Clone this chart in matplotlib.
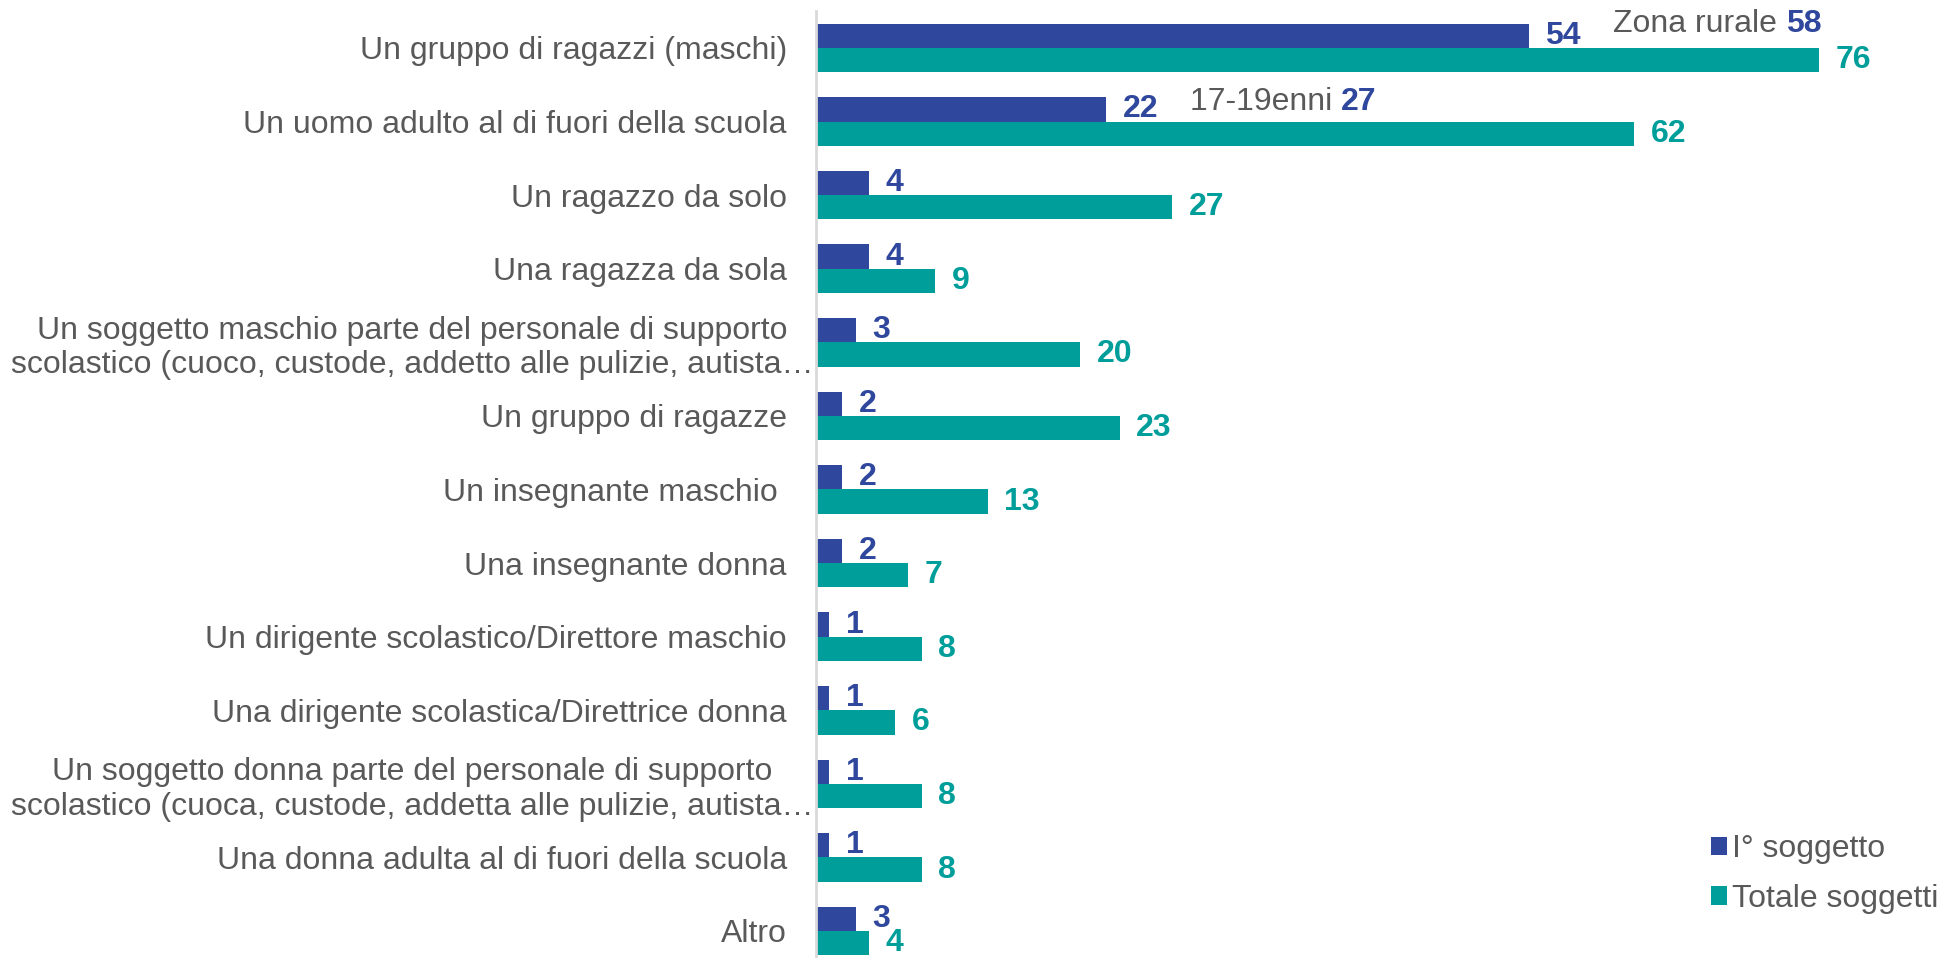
import matplotlib
matplotlib.use("Agg")
import matplotlib.pyplot as plt
from matplotlib.patches import Patch
import numpy as np

plt.rcParams['font.family'] = ['Liberation Sans', 'DejaVu Sans']

categories = [
    "Un gruppo di ragazzi (maschi)",
    "Un uomo adulto al di fuori della scuola",
    "Un ragazzo da solo",
    "Una ragazza da sola",
    "Un soggetto maschio parte del personale di supporto\nscolastico (cuoco, custode, addetto alle pulizie, autista\u2026",
    "Un gruppo di ragazze",
    "Un insegnante maschio ",
    "Una insegnante donna",
    "Un dirigente scolastico/Direttore maschio",
    "Una dirigente scolastica/Direttrice donna",
    "Un soggetto donna parte del personale di supporto\nscolastico (cuoca, custode, addetta alle pulizie, autista\u2026",
    "Una donna adulta al di fuori della scuola",
    "Altro",
]
primo = [54, 22, 4, 4, 3, 2, 2, 2, 1, 1, 1, 1, 3]
totale = [76, 62, 27, 9, 20, 23, 13, 7, 8, 6, 8, 8, 4]
series_names = ["I\u00b0 soggetto", "Totale soggetti"]

note_labels = ["Zona rurale", "17-19enni"]
note_values = [58, 27]
note_rows = [0, 1]

BLUE = "#2F479C"
TEAL = "#009E9A"
GRAY = "#595959"
FS = 23

fig = plt.figure(figsize=(19.47, 9.58), dpi=100)
ax = fig.add_axes([816/1947, -0.0102, 1056/1947, 0.9985])

y = np.arange(len(categories))
h = 0.33
ax.barh(y - h/2, primo, height=h, color=BLUE, label=series_names[0])
ax.barh(y + h/2, totale, height=h, color=TEAL, label=series_names[1])

ax.set_xlim(0, 80)
ax.set_ylim(len(categories) - 0.5, -0.5)

for yi, v in zip(y, primo):
    ax.annotate(str(v), xy=(v, yi - h/2), xytext=(12, 0), textcoords='offset points',
                ha='left', va='center', fontsize=FS, fontweight='bold', color=BLUE)
for yi, v in zip(y, totale):
    ax.annotate(str(v), xy=(v, yi + h/2), xytext=(12, 0), textcoords='offset points',
                ha='left', va='center', fontsize=FS, fontweight='bold', color=TEAL)

note_x = [60.4, 28.3]
note_dy = [-0.33, -0.26]
for lab, val, row, nx, ndy in zip(note_labels, note_values, note_rows, note_x, note_dy):
    t = ax.text(nx, row + ndy, lab + " ", ha='left', va='center', fontsize=FS, color=GRAY)
    ax.annotate(str(val), xy=(1, 0), xycoords=t, xytext=(0, 0), textcoords='offset points',
                ha='left', va='bottom', fontsize=FS, fontweight='bold', color=BLUE)

ax.set_yticks(y)
ax.set_yticklabels(categories, fontsize=FS, color=GRAY, linespacing=1.2)
ax.tick_params(axis='y', length=0, pad=21)
for lbl in ax.get_yticklabels():
    if "\n" in lbl.get_text():
        lbl.set_multialignment('center')
        lbl.set_x(0.0255)
ax.set_xticks([])
for s in ['top', 'right', 'bottom']:
    ax.spines[s].set_visible(False)
ax.spines['left'].set_color('#D9D9D9')
ax.spines['left'].set_linewidth(2)

handles = [Patch(facecolor=BLUE), Patch(facecolor=TEAL)]
fig.legend(handles, series_names, loc='upper left', bbox_to_anchor=(1711/1947, 1 - 834/958),
           frameon=False, fontsize=FS, handlelength=0.5, handleheight=0.5,
           handletextpad=0.15, labelspacing=0.62, borderpad=0, borderaxespad=0,
           labelcolor=GRAY)

fig.savefig("out.png", dpi=100)
